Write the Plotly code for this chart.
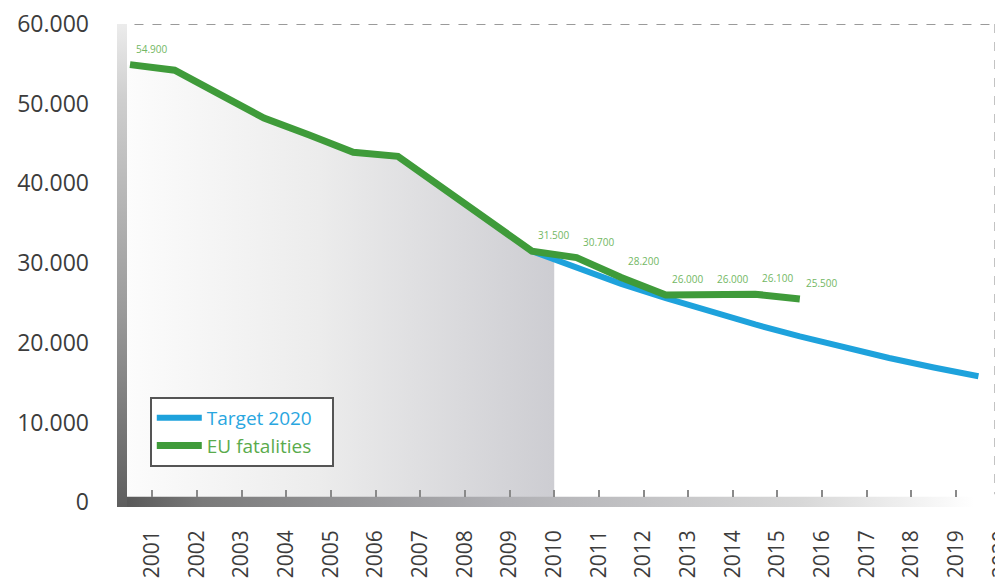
import numpy as np
import plotly.graph_objects as go

# ---------------- data ----------------
FAT_YEARS = [2001, 2002, 2003, 2004, 2005, 2006, 2007, 2008,
             2009, 2010, 2011, 2012, 2013, 2014, 2015, 2016]
FAT_VALUES = [54900, 54200, 51200, 48200, 46100, 43900, 43400, 39400,
              35500, 31500, 30700, 28200, 26000, 26000, 26100, 25500]

TARGET_YEARS = [2010, 2011, 2012, 2013, 2014, 2015, 2016, 2017, 2018, 2019, 2020]
TARGET_VALUES = [31500, 29400, 27400, 25600, 23900, 22300, 20800, 19400, 18100, 16900, 15800]

LABEL_YEARS = [2001, 2010, 2011, 2012, 2013, 2014, 2015, 2016]
LABEL_TEXT = ["54.900", "31.500", "30.700", "28.200", "26.000", "26.000", "26.100", "25.500"]

TICK_YEARS = list(range(2001, 2021))
Y_TICKS = [0, 10000, 20000, 30000, 40000, 50000, 60000]
Y_TICK_TEXT = ["0", "10.000", "20.000", "30.000", "40.000", "50.000", "60.000"]

SERIES_NAMES = ["Target 2020", "EU fatalities"]
ACTUAL_END = 2010.5  # shaded "past" period ends at the 2010 tick

# ---------------- style ----------------
GREEN = "#3f9b3a"
BLUE = "#1ea2dc"
LABEL_GREEN = "#72b763"
TEXT = "#3c3c3c"
FONT = "Open Sans"
PAD = "&nbsp;" * 3

X0, X1 = 2000.709, 2020.55
Y0, Y1 = -600, 60000
BAR_X1 = 2000.933   # right edge of left axis bar
BAR_Y1 = 700        # top of bottom axis bar
FRAME_X = 2020.38   # dashed right frame line

fig = go.Figure()

# shaded area under the recorded fatalities up to 2010
past_x = [BAR_X1] + [x for x in FAT_YEARS if x <= ACTUAL_END] + [ACTUAL_END]
past_y = ([float(np.interp(BAR_X1, FAT_YEARS, FAT_VALUES, left=FAT_VALUES[0]))]
          + [v for x, v in zip(FAT_YEARS, FAT_VALUES) if x <= ACTUAL_END]
          + [float(np.interp(ACTUAL_END, FAT_YEARS, FAT_VALUES))])
fig.add_trace(go.Scatter(
    x=past_x, y=past_y, mode="lines", line=dict(width=0), fill="tozeroy",
    fillgradient=dict(type="horizontal",
                      colorscale=[[0, "#fcfcfc"], [0.45, "#ececec"], [1, "#cdcdd2"]]),
    hoverinfo="skip", showlegend=False))

# bottom axis bar (gradient dark -> white)
fig.add_trace(go.Scatter(
    x=[X0, 2019.9, 2019.9, X0, X0], y=[Y0, Y0, BAR_Y1, BAR_Y1, Y0],
    mode="lines", line=dict(width=0), fill="toself",
    fillgradient=dict(type="horizontal",
                      colorscale=[[0, "#555555"], [0.1, "#7a7a7a"], [0.45, "#b0b0b4"],
                                  [0.8, "#d8d8d8"], [1, "#ffffff"]]),
    hoverinfo="skip", showlegend=False))

# left axis bar (gradient dark bottom -> light top)
fig.add_trace(go.Scatter(
    x=[X0, BAR_X1, BAR_X1, X0, X0], y=[Y0, Y0, Y1, Y1, Y0],
    mode="lines", line=dict(width=0), fill="toself",
    fillgradient=dict(type="vertical",
                      colorscale=[[0, "#5e5e5e"], [0.4, "#9a9a9a"], [0.85, "#cfcfcf"],
                                  [1, "#ececec"]]),
    hoverinfo="skip", showlegend=False))

# target line
fig.add_trace(go.Scatter(
    x=TARGET_YEARS, y=TARGET_VALUES, mode="lines",
    line=dict(color=BLUE, width=6),
    name=f"<span style='color:#29a6df'>{SERIES_NAMES[0]}</span>"))

# fatalities line
fig.add_trace(go.Scatter(
    x=FAT_YEARS, y=FAT_VALUES, mode="lines",
    line=dict(color=GREEN, width=7),
    name=f"<span style='color:#5aab4c'>{SERIES_NAMES[1]}</span>{PAD}"))

# value labels
for yr, txt in zip(LABEL_YEARS, LABEL_TEXT):
    val = FAT_VALUES[FAT_YEARS.index(yr)]
    fig.add_annotation(x=yr, y=val, text=txt, showarrow=False,
                       xshift=22, yshift=16,
                       font=dict(family=FONT, size=10, color=LABEL_GREEN))

# dashed frame (top and right)
fig.add_shape(type="line", x0=2001.1, x1=FRAME_X, y0=Y1, y1=Y1,
              line=dict(color="#9a9a9a", width=2, dash="dash"))
fig.add_shape(type="line", x0=FRAME_X, x1=FRAME_X, y0=Y1, y1=1000,
              line=dict(color="#9a9a9a", width=2, dash="dash"))

# page body has an 8px default margin, so the figure is 8px smaller
fig.update_layout(
    width=995, height=572,
    margin=dict(l=109, r=0, t=16, b=73, autoexpand=False),
    paper_bgcolor="white", plot_bgcolor="white",
    separators=",.",
    font=dict(family=FONT, color=TEXT),
    showlegend=True,
    legend=dict(x=0.037, y=0.228, xanchor="left", yanchor="top",
                bgcolor="white", bordercolor="#555555", borderwidth=2,
                font=dict(family=FONT, size=19), itemwidth=45,
                traceorder="normal"),
    xaxis=dict(range=[X0, X1], showgrid=False, zeroline=False, showline=False,
               automargin=False, ticklabeloverflow="allow",
               tickvals=[y + 0.5 for y in TICK_YEARS],
               ticktext=[str(y) for y in TICK_YEARS],
               tickangle=-90, ticks="inside", ticklen=7, tickwidth=1.5,
               tickcolor="#8a8a8a", anchor="free", position=0.0207,
               ticklabelstandoff=28,
               tickfont=dict(family=FONT, size=21, color=TEXT)),
    yaxis=dict(range=[Y0, Y1], showgrid=False, zeroline=False, showline=False,
               automargin=False, ticklabeloverflow="allow",
               tickvals=Y_TICKS, ticktext=Y_TICK_TEXT, ticks="",
               ticklabelstandoff=27,
               tickfont=dict(family=FONT, size=23, color=TEXT)),
)

fig.write_html("out.html")
